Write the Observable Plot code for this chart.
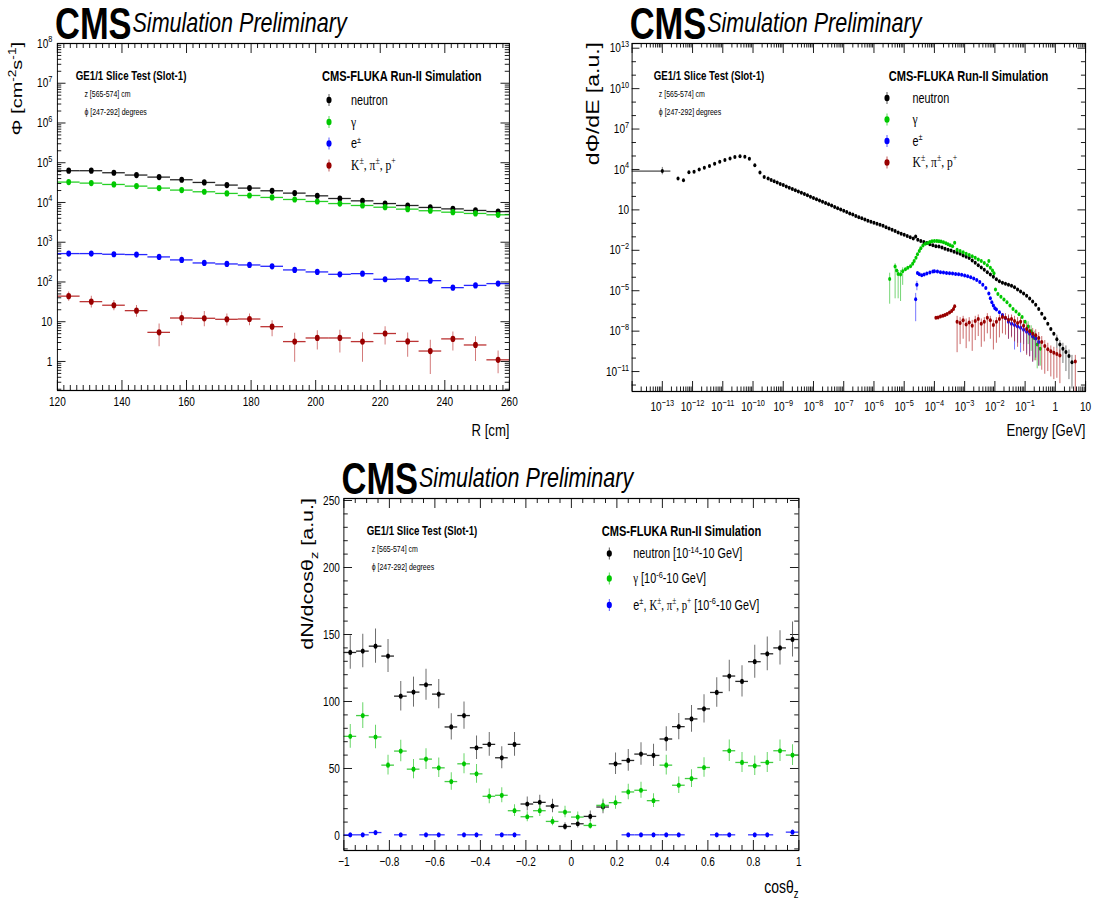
<!DOCTYPE html>
<html><head><meta charset="utf-8">
<script src="https://cdn.jsdelivr.net/npm/d3@7"></script>
<script src="https://cdn.jsdelivr.net/npm/@observablehq/plot@0.6"></script>
<style>
html,body{margin:0;padding:0;background:#fff;overflow:hidden;width:1094px;height:901px}
#page{position:absolute;left:0;top:0;width:1412px;height:901px;transform:scaleX(0.775);transform-origin:0 0;font-family:"Liberation Sans",Arial,Helvetica,sans-serif;color:#000}
.panel{position:absolute}
#ann{position:absolute;left:0;top:0;overflow:visible}
</style></head><body><div id="page"></div>
<script>
// ================= DATA =================
// Panel 1: flux vs R
const rBins = [123.5,130.5,137.5,144.5,151.5,158.5,165.5,172.5,179.5,186.5,193.5,200.5,207.5,214.5,221.5,228.5,235.5,242.5,249.5,256.5];
const rNeutron = [63000,63000,56000,49000,43500,37300,31900,27400,23000,19700,17200,14700,12600,11000,9400,8400,7500,6900,6300,5900];
const rGamma = [32600,30700,28400,25800,23000,20500,18600,16900,15000,13400,11900,10600,9400,8400,7600,6800,6200,5700,5300,4900];
const rElectron = [518,518,498,489,427,359,301,284,268,248,201,179,156,162,117,119,108,72,82,91];
const rHadron = [44,32,26,19,5.4,12.4,12.2,11.5,11.7,7.5,3.16,3.9,3.9,3.16,5.05,3.2,1.83,3.7,2.6,1.1];
const rHadronLo = [32.9,22,19,12.9,2.36,7.9,7.5,7.8,7.9,4.2,0.96,1.94,1.63,0.96,2.6,1.28,0.47,1.83,1.0,0.49];
const rHadronHi = [55.7,44,34.2,25.5,8.7,17.3,18,15.6,15.6,10.6,5.15,5.9,6.1,5.3,7.46,5.2,3.4,5.5,4.2,1.83];

// Panel 2: energy spectra, [log10(E/GeV), log10(dPhi/dE)]
const neutronSpectrum = [[-13.00,3.88],[-12.48,3.33],[-12.30,3.20],[-12.12,3.80],[-11.95,3.83],[-11.78,4.00],[-11.61,4.12],[-11.44,4.25],[-11.27,4.43],[-11.10,4.57],[-10.93,4.70],[-10.76,4.82],[-10.60,4.93],[-10.43,4.98],[-10.27,4.95],[-10.12,4.80],[-9.94,4.32],[-9.77,3.78],[-9.63,3.45],[-9.50,3.33],[-9.40,3.22],[-9.30,3.12],[-9.20,3.03],[-9.10,2.93],[-9.00,2.84],[-8.90,2.74],[-8.80,2.64],[-8.70,2.55],[-8.60,2.46],[-8.50,2.36],[-8.40,2.27],[-8.30,2.18],[-8.20,2.08],[-8.10,1.98],[-8.00,1.88],[-7.90,1.79],[-7.80,1.70],[-7.70,1.61],[-7.60,1.52],[-7.50,1.42],[-7.40,1.33],[-7.30,1.22],[-7.20,1.13],[-7.10,1.03],[-7.00,0.94],[-6.90,0.85],[-6.80,0.74],[-6.70,0.66],[-6.60,0.55],[-6.50,0.46],[-6.40,0.38],[-6.30,0.28],[-6.20,0.20],[-6.10,0.12],[-6.00,0.05],[-5.90,-0.02],[-5.80,-0.10],[-5.70,-0.17],[-5.60,-0.28],[-5.50,-0.38],[-5.40,-0.47],[-5.30,-0.56],[-5.20,-0.67],[-5.10,-0.78],[-5.00,-0.85],[-4.90,-0.93],[-4.80,-1.03],[-4.70,-1.12],[-4.62,-0.98],[-4.55,-1.22],[-4.45,-1.30],[-4.35,-1.38],[-4.25,-1.45],[-4.15,-1.55],[-4.05,-1.62],[-3.95,-1.70],[-3.85,-1.72],[-3.75,-1.80],[-3.65,-1.88],[-3.55,-1.95],[-3.45,-2.02],[-3.35,-2.10],[-3.25,-2.18],[-3.15,-2.25],[-3.05,-2.38],[-2.95,-2.48],[-2.85,-2.58],[-2.75,-2.75],[-2.65,-2.92],[-2.55,-3.10],[-2.45,-3.28],[-2.35,-3.45],[-2.25,-3.62],[-2.15,-3.80],[-2.05,-3.97],[-1.95,-4.15],[-1.85,-4.30],[-1.75,-4.40],[-1.65,-4.48],[-1.55,-4.55],[-1.45,-4.63],[-1.35,-4.75],[-1.25,-4.90],[-1.15,-5.05],[-1.05,-5.20],[-0.95,-5.38],[-0.85,-5.58],[-0.75,-5.80],[-0.65,-6.05],[-0.55,-6.35],[-0.45,-6.70],[-0.35,-7.05],[-0.25,-7.45],[-0.15,-7.85],[-0.05,-8.20],[0.05,-8.60],[0.15,-9.00],[0.25,-9.30],[0.35,-9.55],[0.45,-9.85],[0.55,-10.30]];
const neutronErrors = [[-13.00,3.60,4.15],[0.05,-9.3,-8.3],[0.15,-9.9,-8.7],[0.25,-10.4,-8.9],[0.35,-11.0,-9.1],[0.45,-11.6,-9.4],[0.55,-12.3,-9.8]];
const neutronWideBin = [[-14.0,-12.72,3.88]];
const gammaSpectrum = [[-5.48,-4.13],[-5.30,-3.20],[-5.25,-3.50],[-5.20,-3.75],[-5.12,-3.80],[-5.05,-3.55],[-4.96,-3.40],[-4.88,-3.30],[-4.79,-3.18],[-4.72,-3.00],[-4.67,-2.80],[-4.61,-2.55],[-4.56,-2.30],[-4.50,-2.05],[-4.45,-1.85],[-4.38,-1.65],[-4.30,-1.52],[-4.22,-1.45],[-4.15,-1.38],[-4.08,-1.33],[-4.00,-1.30],[-3.92,-1.30],[-3.85,-1.32],[-3.78,-1.35],[-3.70,-1.40],[-3.62,-1.48],[-3.55,-1.55],[-3.48,-1.62],[-3.40,-1.70],[-3.33,-1.43],[-3.25,-1.95],[-3.15,-2.05],[-3.05,-2.15],[-2.95,-2.25],[-2.85,-2.35],[-2.75,-2.45],[-2.65,-2.55],[-2.55,-2.68],[-2.45,-2.80],[-2.35,-2.95],[-2.25,-3.10],[-2.20,-2.80],[-2.15,-3.30],[-2.08,-3.50],[-2.03,-3.70],[-1.98,-4.90],[-1.90,-5.25],[-1.80,-5.45],[-1.70,-5.65],[-1.60,-5.85],[-1.50,-6.10],[-1.40,-6.35],[-1.30,-6.55],[-1.20,-6.75],[-1.10,-6.95],[-1.00,-7.30],[-0.90,-7.65],[-0.80,-8.00],[-0.70,-8.50],[-0.60,-9.00],[-0.50,-9.30]];
const gammaErrors = [[-5.48,-6.0,-3.7],[-5.30,-5.6,-3.0],[-5.20,-5.6,-3.5],[-5.12,-5.8,-3.5],[-5.05,-4.6,-3.3],[-0.90,-9.0,-7.3],[-0.80,-9.5,-7.6],[-0.70,-10.2,-8.0],[-0.60,-10.8,-8.5],[-0.50,-10.6,-8.8]];
const electronSpectrum = [[-4.62,-5.63],[-4.58,-4.55],[-4.56,-3.68],[-4.50,-3.78],[-4.42,-3.85],[-4.34,-3.80],[-4.25,-3.72],[-4.15,-3.65],[-4.05,-3.58],[-4.00,-3.55],[-3.90,-3.58],[-3.80,-3.62],[-3.70,-3.65],[-3.60,-3.68],[-3.50,-3.70],[-3.40,-3.72],[-3.30,-3.75],[-3.20,-3.78],[-3.10,-3.82],[-3.00,-3.87],[-2.90,-3.92],[-2.80,-4.00],[-2.70,-4.10],[-2.60,-4.20],[-2.50,-4.35],[-2.40,-4.55],[-2.30,-4.80],[-2.20,-5.20],[-2.15,-5.55],[-2.10,-5.85],[-2.05,-6.10],[-2.00,-6.30],[-1.95,-6.40],[-1.85,-6.60],[-1.75,-6.80],[-1.65,-7.05],[-1.55,-7.30],[-1.45,-7.45],[-1.35,-7.55],[-1.25,-7.65],[-1.15,-7.75],[-1.05,-7.90],[-0.95,-8.05],[-0.85,-8.20],[-0.75,-8.40],[-0.65,-8.55],[-0.55,-8.80]];
const electronErrors = [[-4.62,-7.3,-5.2],[-4.58,-5.0,-4.3],[-1.55,-8.6,-6.9],[-1.45,-8.4,-7.1],[-1.35,-9.4,-7.2],[-1.25,-8.9,-7.3],[-1.15,-9.6,-7.4],[-1.05,-9.0,-7.6],[-0.95,-9.7,-7.7],[-0.85,-9.9,-7.9],[-0.75,-10.3,-8.1],[-0.65,-10.0,-8.2],[-0.55,-10.6,-8.4]];
const hadronSpectrum = [[-3.95,-7.00],[-3.88,-6.98],[-3.80,-6.92],[-3.72,-6.85],[-3.65,-6.80],[-3.58,-6.72],[-3.50,-6.62],[-3.43,-6.50],[-3.37,-6.35],[-3.33,-6.15],[-3.25,-7.30],[-3.15,-7.40],[-3.05,-7.20],[-2.95,-7.50],[-2.85,-7.35],[-2.75,-7.60],[-2.65,-7.25],[-2.55,-7.10],[-2.45,-7.45],[-2.35,-7.30],[-2.25,-7.00],[-2.15,-7.20],[-2.05,-7.55],[-1.95,-7.30],[-1.85,-7.10],[-1.75,-6.95],[-1.65,-7.00],[-1.55,-7.15],[-1.45,-7.10],[-1.35,-7.25],[-1.25,-7.40],[-1.15,-7.30],[-1.05,-7.60],[-0.95,-7.85],[-0.85,-8.00],[-0.75,-8.20],[-0.65,-8.30],[-0.55,-8.50],[-0.45,-8.80],[-0.35,-9.10],[-0.25,-9.35],[-0.15,-9.50],[-0.05,-9.60],[0.05,-9.70],[0.15,-9.80],[0.66,-10.25]];
const hadronErrors = [[-3.25,-9.6,-6.9],[-3.15,-9.0,-7.0],[-3.05,-8.6,-6.9],[-2.95,-9.3,-7.1],[-2.85,-8.8,-7.0],[-2.75,-9.5,-7.2],[-2.65,-8.7,-6.9],[-2.55,-8.4,-6.8],[-2.45,-9.2,-7.1],[-2.35,-8.8,-7.0],[-2.25,-8.2,-6.7],[-2.15,-8.6,-6.9],[-2.05,-9.4,-7.2],[-1.95,-8.9,-7.0],[-1.85,-8.5,-6.8],[-1.75,-8.2,-6.7],[-1.65,-8.3,-6.7],[-1.55,-8.6,-6.8],[-1.45,-8.5,-6.8],[-1.35,-8.8,-6.9],[-1.25,-9.2,-7.0],[-1.15,-8.9,-7.0],[-1.05,-9.5,-7.2],[-0.95,-9.8,-7.4],[-0.85,-9.9,-7.6],[-0.75,-10.3,-7.8],[-0.65,-10.2,-7.9],[-0.55,-10.6,-8.1],[-0.45,-10.9,-8.4],[-0.35,-11.2,-8.7],[-0.25,-11.0,-8.9],[-0.15,-11.4,-9.1],[-0.05,-11.6,-9.2],[0.05,-11.5,-9.3],[0.15,-11.9,-9.4],[0.66,-12.6,-9.8]];

// Panel 3: angular distribution
const cosBins = [-0.972,-0.917,-0.861,-0.806,-0.750,-0.694,-0.639,-0.583,-0.528,-0.472,-0.417,-0.361,-0.306,-0.250,-0.194,-0.139,-0.083,-0.028,0.028,0.083,0.139,0.194,0.250,0.306,0.361,0.417,0.472,0.528,0.583,0.639,0.694,0.750,0.806,0.861,0.917,0.972];
const cosNeutron = [136.6,137.6,141.3,133.9,104,107,112.5,105.5,81,89.5,65.5,68,58,68,23.5,24.75,22,6.75,8.75,14.25,21.25,53.5,56,60.75,59.75,72,81.25,87,94.5,106.75,119,115,129.7,135.6,140,146.3];
const cosNeutronErr = [12.5,12.5,12.8,12.3,11,11.2,11.5,11,9.8,10.2,8.7,8.9,8.2,8.9,5.2,5.3,5,2.8,3.2,4,5,8,8.1,8.4,8.3,9.2,9.8,10,10.5,11,11.8,11.6,12.3,12.6,12.8,13];
const cosGamma = [74,89.5,73.5,52.5,63,49.5,57,50.5,40.25,53.5,46,29.25,30,18.5,14,18.5,10.5,17.5,13.75,7.5,22.5,24.5,32.5,33.75,26,52.5,37.5,42.5,50.75,null,63.25,54.5,52,54.5,63.25,60];
const cosGammaErr = [8.8,9.6,8.7,7.4,8,7.2,7.7,7.3,6.5,7.5,7,5.5,5.6,4.4,3.8,4.4,3.3,4.3,3.8,2.8,4.8,5,5.8,5.9,5.2,7.4,6.2,6.6,7.2,null,8,7.5,7.3,7.5,8,7.8];
const cosCharged = [0.5,0.5,2.2,null,0.5,null,0.5,0.5,null,0.5,0.5,null,0.5,0.5,null,null,null,null,null,null,null,null,0.5,0.5,0.5,0.5,0.5,null,null,0.5,0.5,null,0.5,0.5,null,2.5];

// Tick labels
const rTickLabels = [120,140,160,180,200,220,240,260];
const cosTickLabels = [-1,-0.8,-0.6,-0.4,-0.2,0,0.2,0.4,0.6,0.8,1];
const countTickLabels = [0,50,100,150,200,250];

// ================= LAYOUT =================
const S = 0.775;
const u = x => x / S;
const FONT = "'Liberation Sans', Arial, Helvetica, sans-serif";
const SERIF = "'Liberation Serif', 'Times New Roman', serif";
const SVGNS = "http://www.w3.org/2000/svg";
const colors = {n: "#000000", g: "#00c800", e: "#0000ff", h: "#990000"};
const page = document.getElementById("page");
function fixSup(svg) {
  for (const t of svg.querySelectorAll("text")) {
    const m = /^(.*)\^(.+)$/.exec(t.textContent);
    if (!m) continue;
    t.textContent = "";
    const a = document.createElementNS(SVGNS, "tspan"); a.textContent = m[1];
    const b = document.createElementNS(SVGNS, "tspan");
    b.setAttribute("dy", "-5.2"); b.setAttribute("font-size", "9.5"); b.textContent = m[2];
    t.append(a, b);
  }
}
function mount(node, left, top) {
  fixSup(node);
  const d = document.createElement("div");
  d.className = "panel"; d.style.left = left + "px"; d.style.top = top + "px";
  d.appendChild(node); page.appendChild(d);
}
const powLabel = v => { const e = Math.round(Math.log10(v)); return e === 0 ? "1" : e === 1 ? "10" : "10^" + String(e).replace("-", "\u2212"); };
function logMinor(lo, hi) {
  const out = [];
  for (let d = Math.floor(Math.log10(lo)); d <= Math.ceil(Math.log10(hi)); d++)
    for (let k = 2; k <= 9; k++) { const v = k * 10 ** d; if (v >= lo && v <= hi) out.push(v); }
  return out;
}
function ticksX(vals, len, fh) {
  return [Plot.ruleX(vals, {x: d => d, insetTop: fh - len, stroke: "#000"}),
          Plot.ruleX(vals, {x: d => d, insetBottom: fh - len, stroke: "#000"})];
}
function ticksY(vals, len, fw) {
  return [Plot.ruleY(vals, {y: d => d, insetRight: fw - len, stroke: "#000"}),
          Plot.ruleY(vals, {y: d => d, insetLeft: fw - len, stroke: "#000"})];
}
const baseStyle = {fontFamily: FONT, fontSize: "13px", background: "transparent", overflow: "visible", color: "#000"};

// ================= PANEL 1 =================
{
  const W = 690, H = 440, ml = u(57), mr = W - u(509), mt = 43, mb = H - 390;
  const fw = W - ml - mr, fh = H - mt - mb;
  const rows = (vals) => rBins.map((r, i) => ({r, v: vals[i]}));
  const had = rBins.map((r, i) => ({r, v: rHadron[i], lo: rHadronLo[i], hi: rHadronHi[i]}));
  const series = [[rNeutron, colors.n], [rGamma, colors.g], [rElectron, colors.e]];
  const marks = [];
  for (const [vals, c] of series) {
    marks.push(Plot.ruleY(rows(vals), {y: "v", x1: d => d.r - 3.5, x2: d => d.r + 3.5, stroke: c, strokeWidth: 1.3, strokeOpacity: 0.85}));
    marks.push(Plot.dot(rows(vals), {x: "r", y: "v", r: 3.1, fill: c, stroke: "none"}));
  }
  marks.push(Plot.ruleX(had, {x: "r", y1: "lo", y2: "hi", stroke: "#c04040", strokeWidth: 1.2, strokeOpacity: 0.75}));
  marks.push(Plot.ruleY(had, {y: "v", x1: d => d.r - 3.5, x2: d => d.r + 3.5, stroke: "#b01010", strokeWidth: 1.3, strokeOpacity: 0.85}));
  marks.push(Plot.dot(had, {x: "r", y: "v", r: 3.1, fill: colors.h, stroke: "none"}));
  const xMinor = d3.range(122, 260, 2).filter(v => v % 20 !== 0);
  const yMajor = [1, 10, 1e2, 1e3, 1e4, 1e5, 1e6, 1e7, 1e8];
  const chart = Plot.plot({
    width: W, height: H, marginLeft: ml, marginRight: mr, marginTop: mt, marginBottom: mb,
    x: {domain: [120, 260], label: null},
    y: {type: "log", domain: [0.186, 1e8], label: null},
    style: baseStyle,
    marks: [
      ...ticksX(rTickLabels, 10, fh), ...ticksX(xMinor, 5, fh),
      ...ticksY(yMajor, 11, fw), ...ticksY(logMinor(0.186, 1e8), 5.5, fw),
      Plot.axisX(rTickLabels, {anchor: "bottom", tickSize: 0, tickPadding: 6, label: null, tickFormat: d => String(d)}),
      Plot.axisY(yMajor, {anchor: "left", tickSize: 0, tickPadding: u(5), label: null, tickFormat: powLabel}),
      ...marks,
      Plot.frame({stroke: "#000", strokeWidth: 1.2})
    ]
  });
  mount(chart, 0, 0);
}

// ================= PANEL 2 =================
{
  const L = 740, W = 1412 - L, H = 440, ml = u(631.7) - L, mr = W - (u(1085.2) - L), mt = 43, mb = H - 391;
  const fw = W - ml - mr, fh = H - mt - mb;
  const pts = arr => arr.map(([le, lf]) => ({e: 10 ** le, f: 10 ** lf}));
  const errs = arr => arr.map(([le, lo, hi]) => ({e: 10 ** le, lo: 10 ** lo, hi: 10 ** hi}));
  const sets = [
    [neutronSpectrum, neutronErrors, colors.n, "#333"],
    [gammaSpectrum, gammaErrors, colors.g, "#30c030"],
    [electronSpectrum, electronErrors, colors.e, "#3030ff"],
    [hadronSpectrum, hadronErrors, colors.h, "#b02020"]
  ];
  const marks = [];
  for (const [sp, er, c, ec] of sets) {
    marks.push(Plot.ruleX(errs(er), {x: "e", y1: "lo", y2: "hi", stroke: ec, strokeWidth: 1, strokeOpacity: 0.75, clip: true}));
    if (sp === neutronSpectrum) marks.push(Plot.ruleY(neutronWideBin.map(([a, b, v]) => ({x1: 10 ** a, x2: 10 ** b, y: 10 ** v})), {x1: "x1", x2: "x2", y: "y", stroke: "#000", strokeWidth: 1}));
    marks.push(Plot.dot(pts(sp), {x: "e", y: "f", r: 2, fill: c, stroke: "none", clip: true}));
  }
  const xMajor = d3.range(-14, 2).map(d => 10 ** d);
  const xLabels = d3.range(-13, 2).map(d => 10 ** d);
  const yDec = d3.range(-12, 14).map(d => 10 ** d);
  const yLabels = [-11, -8, -5, -2, 1, 4, 7, 10, 13].map(d => 10 ** d);
  const chart = Plot.plot({
    width: W, height: H, marginLeft: ml, marginRight: mr, marginTop: mt, marginBottom: mb,
    x: {type: "log", domain: [1e-14, 10], label: null},
    y: {type: "log", domain: [10 ** -12.48, 10 ** 13.35], label: null},
    style: baseStyle,
    marks: [
      ...ticksX(xMajor, 10, fh), ...ticksX(logMinor(1e-14, 10), 4.5, fh),
      ...ticksY(yLabels, 10, fw), ...ticksY(yDec.filter(v => !yLabels.includes(v)), 5.5, fw),
      Plot.axisX(xLabels, {anchor: "bottom", tickSize: 0, tickPadding: 10, label: null, tickFormat: powLabel}),
      Plot.axisY(yLabels, {anchor: "left", tickSize: 0, tickPadding: u(3), label: null, tickFormat: powLabel}),
      ...marks,
      Plot.frame({stroke: "#000", strokeWidth: 1.2})
    ]
  });
  mount(chart, L, 0);
}

// ================= PANEL 3 =================
{
  const L = 380, T = 455, W = 700, H = 446, ml = u(343.5) - L, mr = W - (u(798.5) - L), mt = 498 - T, mb = H - (850 - T);
  const fw = W - ml - mr, fh = H - mt - mb;
  const hw = 1 / 36;
  const rows = (vals, errs) => cosBins.map((c, i) => ({c, v: vals[i], e: errs ? errs[i] : 0})).filter(d => d.v != null);
  const sets = [[cosNeutron, cosNeutronErr, colors.n, "#555", "#111"], [cosGamma, cosGammaErr, colors.g, "#50d050", "#30c830"], [cosCharged, null, colors.e, "#5050ff", "#2020ff"]];
  const marks = [];
  for (const [vals, errs, c, ec, hc] of sets) {
    const d = rows(vals, errs);
    if (errs) marks.push(Plot.ruleX(d, {x: "c", y1: r => r.v - r.e, y2: r => r.v + r.e, stroke: ec, strokeWidth: 1.3, strokeOpacity: 0.85}));
    marks.push(Plot.ruleY(d, {y: "v", x1: r => r.c - hw, x2: r => r.c + hw, stroke: hc, strokeWidth: 1.3, strokeOpacity: 0.9}));
    marks.push(Plot.dot(d, {x: "c", y: "v", r: 2.6, fill: c, stroke: "none"}));
  }
  const xMinor = d3.range(-20, 21).map(k => k * 0.05).filter(v => Math.abs(Math.round(v * 5) - v * 5) > 1e-6);
  const yMinor = d3.range(-10, 251, 10).filter(v => v % 50 !== 0);
  const chart = Plot.plot({
    width: W, height: H, marginLeft: ml, marginRight: mr, marginTop: mt, marginBottom: mb,
    x: {domain: [-1, 1], label: null},
    y: {domain: [-11.2, 251.5], label: null},
    style: baseStyle,
    marks: [
      ...ticksX(cosTickLabels, 10, fh), ...ticksX(xMinor, 5, fh),
      ...ticksY(countTickLabels, 11, fw), ...ticksY(yMinor, 5.5, fw),
      Plot.axisX(cosTickLabels, {anchor: "bottom", tickSize: 0, tickPadding: 6, label: null, tickFormat: d => d === 0 ? "0" : String(+d.toFixed(1)).replace("-", "\u2212")}),
      Plot.axisY(countTickLabels, {anchor: "left", tickSize: 0, tickPadding: u(4), label: null, tickFormat: d => String(d)}),
      ...marks,
      Plot.frame({stroke: "#000", strokeWidth: 1.2})
    ]
  });
  mount(chart, L, T);
}

// ================= ANNOTATIONS =================
function rich(segs, fs) {
  let cur = 0, out = "";
  for (const seg of segs) {
    const [s, k = "n", fam] = Array.isArray(seg) ? seg : [seg];
    const target = k === "sup" ? -0.4 * fs : k === "sub" ? 0.28 * fs : 0;
    const size = k === "n" ? fs : 0.68 * fs;
    out += `<tspan dy="${(target - cur).toFixed(2)}" font-size="${size.toFixed(2)}"${fam ? ` font-family="${fam}"` : ""}>${s}</tspan>`;
    cur = target;
  }
  return out;
}
const ann = [];
function T(x, y, content, attrs = "") { ann.push(`<text x="${u(x).toFixed(2)}" y="${y}" ${attrs}>${content}</text>`); }
function marker(x, y, c) {
  ann.push(`<line x1="${u(x).toFixed(2)}" x2="${u(x).toFixed(2)}" y1="${y - 6}" y2="${y + 6}" stroke="${c}" stroke-opacity="0.7" stroke-width="1.2"/>`);
  ann.push(`<circle cx="${u(x).toFixed(2)}" cy="${y}" r="3.3" fill="${c}"/>`);
}
function header(fl, ft, o) {
  T(fl - 2, ft - 4, "CMS", `font-weight="bold" font-size="44.5"`);
  T(fl + 75.5, ft - 10.5, "Simulation Preliminary", `font-style="italic" font-size="27.8"`);
  T(o.ge, ft + 37, "GE1/1 Slice Test (Slot-1)", `font-weight="bold" font-size="12.5"`);
  T(o.z, ft + 54, "z [565-574] cm", `font-size="9"`);
  T(o.z, ft + 72, "\u03D5 [247-292] degrees", `font-size="9"`);
  T(o.title, ft + 38.5, "CMS-FLUKA Run-II Simulation", `font-weight="bold" font-size="14.3"`);
}
// Panel 1 & 2 (shared legend)
const legendTop = [
  {fl: 57, ge: 75.8, z: 84.4, title: 322, mk: 329, tx: 351, ys: [57, 79, 100.5, 122.5]},
  {fl: 631.7, ge: 653.7, z: 658.8, title: 888.7, mk: 887, tx: 912.5, ys: [55, 76.5, 98, 119.5]}
];
for (const o of legendTop) {
  const ft = 43;
  header(o.fl, ft, o);
  const labels = [
    rich([["neutron"]], 14),
    rich([["\u03B3", "n", SERIF]], 15),
    rich([["e"], ["\u00B1", "sup"]], 14),
    rich([["K", "n", SERIF], ["\u00B1", "sup", SERIF], [", \u03C0", "n", SERIF], ["\u00B1", "sup", SERIF], [", p", "n", SERIF], ["+", "sup", SERIF]], 15)
  ];
  const cs = [colors.n, colors.g, colors.e, colors.h];
  o.ys.forEach((y, i) => { marker(o.mk, ft + y, cs[i]); T(o.tx, ft + y + 5, labels[i]); });
}
// Panel 3
{
  const o = {fl: 343.5, ge: 366.7, z: 371.7, title: 601.7, mk: 609.3, tx: 633.3, ys: [55.5, 80.5, 107]};
  const ft = 498;
  header(o.fl, ft, o);
  const labels = [
    rich([["neutron [10"], ["-14", "sup"], ["-10 GeV]"]], 14),
    rich([["\u03B3", "n", SERIF], [" [10"], ["-6", "sup"], ["-10 GeV]"]], 14),
    rich([["e"], ["\u00B1", "sup"], [", "], ["K", "n", SERIF], ["\u00B1", "sup", SERIF], [", \u03C0", "n", SERIF], ["\u00B1", "sup", SERIF], [", p", "n", SERIF], ["+", "sup", SERIF], [" [10"], ["-6", "sup"], ["-10 GeV]"]], 14)
  ];
  const cs = [colors.n, colors.g, colors.e];
  o.ys.forEach((y, i) => { marker(o.mk, ft + y, cs[i]); T(o.tx, ft + y + 5, labels[i]); });
}
// Axis titles
T(509.5, 436, "R [cm]", `font-size="17" text-anchor="end"`);
T(1085.5, 436, "Energy [GeV]", `font-size="17" text-anchor="end"`);
T(798.5, 893, rich([["cos\u03B8"], ["z", "sub"]], 18), `text-anchor="end"`);
function Y(xb, yEnd, content, fs) {
  ann.push(`<text transform="translate(${u(xb).toFixed(2)},${yEnd}) rotate(-90)" text-anchor="end" font-size="${fs}">${content}</text>`);
}
Y(22, 42, rich([["\u03A6 [cm"], ["-2", "sup"], ["s"], ["-1", "sup"], ["]"]], 20), 20);
Y(599, 42, rich([["d\u03A6/dE [a.u.]"]], 23), 23);
Y(313, 498, rich([["dN/dcos\u03B8"], ["z", "sub"], [" [a.u.]"]], 21.5), 21.5);

const annSvg = `<svg id="ann" width="1412" height="901" xmlns="http://www.w3.org/2000/svg" font-family="${FONT.replace(/"/g, "'")}" fill="#000">${ann.join("")}</svg>`;
page.insertAdjacentHTML("beforeend", annSvg);
</script>
</body></html>
